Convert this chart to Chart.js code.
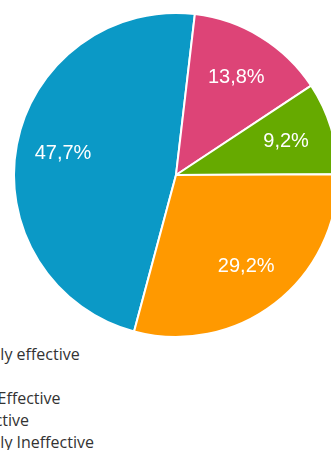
<!DOCTYPE html>
<html>
<head>
<meta charset="utf-8">
<script src="https://cdn.jsdelivr.net/npm/chart.js@4/dist/chart.umd.min.js"></script>
<style>
  html, body { margin: 0; padding: 0; width: 331px; height: 450px; overflow: hidden; background: #fff; }
  #wrap { position: absolute; left: 13px; top: 12px; width: 326px; height: 326px; }
  #legend { position: absolute; left: -34px; top: 343px; font-family: "Open Sans"; font-size: 16px;
            color: #333; line-height: 22px; white-space: nowrap; }
</style>
</head>
<body>
<div id="wrap"><canvas id="pie" width="326" height="326"></canvas></div>
<div id="legend"></div>
<script>
// answers in legend order, response counts read from the percentages
const categories = ['Highly effective', 'Fair', 'Not Effective', 'Effective', 'Highly Ineffective'];
const counts = [31, 0, 9, 6, 19];
const sliceColors = ['#0b99c6', '#9e9e9e', '#dd4477', '#66aa00', '#ff9900'];

const total = counts.reduce((a, b) => a + b, 0);

const percentLabels = {
  id: 'percentLabels',
  afterDatasetsDraw(chart) {
    const ctx = chart.ctx;
    const meta = chart.getDatasetMeta(0);
    ctx.save();
    ctx.font = '20px "Liberation Sans", Arial, sans-serif';
    ctx.fillStyle = '#ffffff';
    ctx.textAlign = 'center';
    ctx.textBaseline = 'middle';
    meta.data.forEach(function (arc, i) {
      if (!counts[i]) return;
      const p = arc.getProps(['x', 'y', 'startAngle', 'endAngle', 'outerRadius'], true);
      const mid = (p.startAngle + p.endAngle) / 2;
      const r = p.outerRadius * 0.71;
      const txt = (counts[i] / total * 100).toFixed(1).replace('.', ',') + '%';
      ctx.fillText(txt, p.x + Math.cos(mid) * r, p.y + Math.sin(mid) * r);
    });
    ctx.restore();
  }
};

new Chart(document.getElementById('pie').getContext('2d'), {
  type: 'pie',
  data: {
    labels: categories,
    datasets: [{
      data: counts,
      backgroundColor: sliceColors,
      borderColor: '#ffffff',
      borderWidth: 2
    }]
  },
  options: {
    responsive: false,
    animation: false,
    events: [],
    rotation: 195,
    layout: { padding: 0 },
    plugins: {
      legend: { display: false },
      tooltip: { enabled: false }
    }
  },
  plugins: [percentLabels]
});

var legendEl = document.getElementById('legend');
for (var n = 0; n < categories.length; n++) {
  var row = document.createElement('div');
  row.textContent = categories[n];
  legendEl.appendChild(row);
}
</script>
</body>
</html>
